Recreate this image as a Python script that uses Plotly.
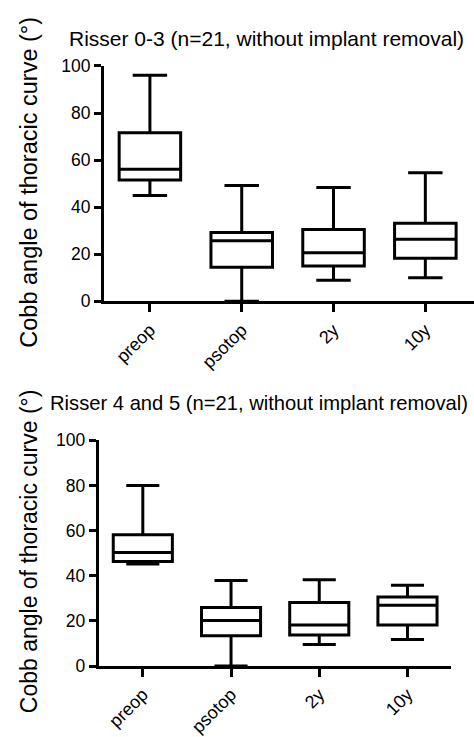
import plotly.graph_objects as go

categories = ["preop", "psotop", "2y", "10y"]

# Risser 0-3
top_min = [45, 0, 9, 10]
top_q1 = [51.6, 14.5, 15, 18.3]
top_med = [56.1, 25.7, 20.6, 26.4]
top_q3 = [71.6, 29.2, 30.5, 33.2]
top_max = [96, 49.2, 48.4, 54.6]

# Risser 4 and 5
bot_min = [45.2, 0, 9.5, 11.7]
bot_q1 = [46.3, 13.4, 13.7, 18.2]
bot_med = [50.3, 20.2, 18.2, 26.9]
bot_q3 = [58.1, 25.9, 28.1, 30.6]
bot_max = [80, 37.9, 38.2, 35.8]

y_ticks = [0, 20, 40, 60, 80, 100]
title_top = "Risser 0-3 (n=21, without implant removal)"
title_bot = "Risser 4 and 5 (n=21, without implant removal)"
y_title = "Cobb angle of thoracic curve (°)"

FONT = "Liberation Sans, Arial, sans-serif"
W, H = 474, 737

fig = go.Figure()

def add_box(xa, ya, mn, q1, med, q3, mx):
    for i, c in enumerate(categories):
        fig.add_trace(go.Box(
            x=[c], q1=[q1[i]], median=[med[i]], q3=[q3[i]],
            lowerfence=[mn[i]], upperfence=[mx[i]],
            xaxis=xa, yaxis=ya,
            line=dict(color="black", width=3),
            fillcolor="white",
            width=0.67, whiskerwidth=0.56,
            boxpoints=False, showlegend=False, hoverinfo="skip",
        ))

add_box("x", "y", top_min, top_q1, top_med, top_q3, top_max)
add_box("x2", "y2", bot_min, bot_q1, bot_med, bot_q3, bot_max)

axis_common = dict(
    showgrid=False, zeroline=False, showline=True, linecolor="black", linewidth=3,
    ticks="outside", tickwidth=3, tickcolor="black",
)
yfont = dict(family=FONT, size=17.5, color="black")
xfont = dict(family=FONT, size=18, color="black")

fig.update_layout(
    width=W, height=H, margin=dict(l=0, r=0, t=0, b=0),
    paper_bgcolor="white", plot_bgcolor="white",
    font=dict(family=FONT, color="black"),
    xaxis=dict(domain=[104 / W, 1.0], anchor="y", type="category",
               categoryorder="array", categoryarray=categories,
               range=[-0.5, 3.53], tickangle=-45, ticklen=8, tickfont=xfont, **axis_common),
    yaxis=dict(domain=[1 - 302 / H, 1 - 58 / H], anchor="x", range=[0, 100],
               tickvals=y_ticks, ticklen=7, tickfont=yfont, **axis_common),
    xaxis2=dict(domain=[98.7 / W, 450.7 / W], anchor="y2", type="category",
                categoryorder="array", categoryarray=categories,
                range=[-0.5, 3.49], tickangle=-45, ticklen=8, tickfont=xfont, **axis_common),
    yaxis2=dict(domain=[1 - 680 / H, 1 - 446 / H], anchor="x2", range=[0, 100],
                tickvals=y_ticks, ticklen=7, tickfont=yfont, **axis_common),
)

annos = [
    dict(text=title_top, x=67 / W, y=1 - 30 / H, font_size=21, xanchor="left"),
    dict(text=title_bot, x=48 / W, y=1 - 407 / H, font_size=20.2, xanchor="left"),
    dict(text=y_title, x=29 / W, y=1 - 179 / H, font_size=23.5, textangle=-90, xanchor="center"),
    dict(text=y_title, x=29 / W, y=1 - 561 / H, font_size=23, textangle=-90, xanchor="center"),
]
for a in annos:
    fs = a.pop("font_size")
    fig.add_annotation(xref="paper", yref="paper", yanchor="middle",
                       showarrow=False, font=dict(family=FONT, size=fs, color="black"), **a)

fig.write_html("out.html")
